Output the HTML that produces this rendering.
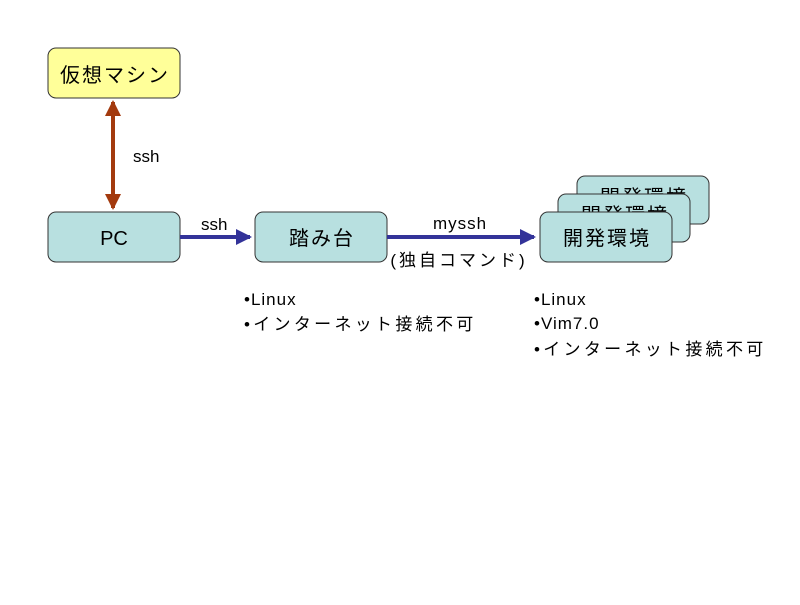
<!DOCTYPE html>
<html><head><meta charset="utf-8"><style>
html,body{margin:0;padding:0;background:#fff;}
svg text{font-family:"Liberation Sans","Noto Sans CJK JP",sans-serif;fill:#000;}
</style></head><body>
<svg width="800" height="600" viewBox="0 0 800 600" xmlns="http://www.w3.org/2000/svg">
<defs>
<marker id="ab" markerWidth="4" markerHeight="4" refX="3.5" refY="2" orient="auto" markerUnits="strokeWidth"><path d="M0,0 L4,2 L0,4 z" fill="#333399"/></marker>
<marker id="ar" markerWidth="4" markerHeight="4" refX="3.5" refY="2" orient="auto-start-reverse" markerUnits="strokeWidth"><path d="M0,0 L4,2 L0,4 z" fill="#a33a0e"/></marker>
</defs>
<rect x="48" y="48" width="132" height="50" rx="8" fill="#ffff99" stroke="#333" stroke-width="1"/>
<text x="115" y="82" font-size="20" text-anchor="middle" letter-spacing="2">仮想マシン</text>
<line x1="113" y1="102" x2="113" y2="208" stroke="#a33a0e" stroke-width="4" marker-start="url(#ar)" marker-end="url(#ar)"/>
<text x="133" y="162" font-size="17">ssh</text>
<rect x="48" y="212" width="132" height="50" rx="8" fill="#b8e0e0" stroke="#333" stroke-width="1"/>
<text x="114" y="245" font-size="20" text-anchor="middle">PC</text>
<line x1="180" y1="237" x2="250" y2="237" stroke="#333399" stroke-width="4" marker-end="url(#ab)"/>
<text x="201" y="230" font-size="17">ssh</text>
<rect x="255" y="212" width="132" height="50" rx="8" fill="#b8e0e0" stroke="#333" stroke-width="1"/>
<text x="322" y="245" font-size="20" text-anchor="middle" letter-spacing="2">踏み台</text>
<line x1="387" y1="237" x2="534" y2="237" stroke="#333399" stroke-width="4" marker-end="url(#ab)"/>
<text x="460" y="229" font-size="17" text-anchor="middle" letter-spacing="1">myssh</text>
<text x="459" y="266" font-size="17" text-anchor="middle" letter-spacing="3">(独自コマンド)</text>
<rect x="577" y="176" width="132" height="48" rx="8" fill="#b8e0e0" stroke="#333" stroke-width="1"/>
<text x="644" y="204" font-size="20" text-anchor="middle" letter-spacing="2">開発環境</text>
<rect x="558" y="194" width="132" height="48" rx="8" fill="#b8e0e0" stroke="#333" stroke-width="1"/>
<text x="625" y="222" font-size="20" text-anchor="middle" letter-spacing="2">開発環境</text>
<rect x="540" y="212" width="132" height="50" rx="8" fill="#b8e0e0" stroke="#333" stroke-width="1"/>
<text x="607" y="245" font-size="20" text-anchor="middle" letter-spacing="2">開発環境</text>
<text x="244" y="305" font-size="17" letter-spacing="1">•Linux</text>
<text x="244" y="330" font-size="17" letter-spacing="3.3">•インターネット接続不可</text>
<text x="534" y="305" font-size="17" letter-spacing="1">•Linux</text>
<text x="534" y="329" font-size="17" letter-spacing="1">•Vim7.0</text>
<text x="534" y="355" font-size="17" letter-spacing="3.3">•インターネット接続不可</text>
</svg>
</body></html>
